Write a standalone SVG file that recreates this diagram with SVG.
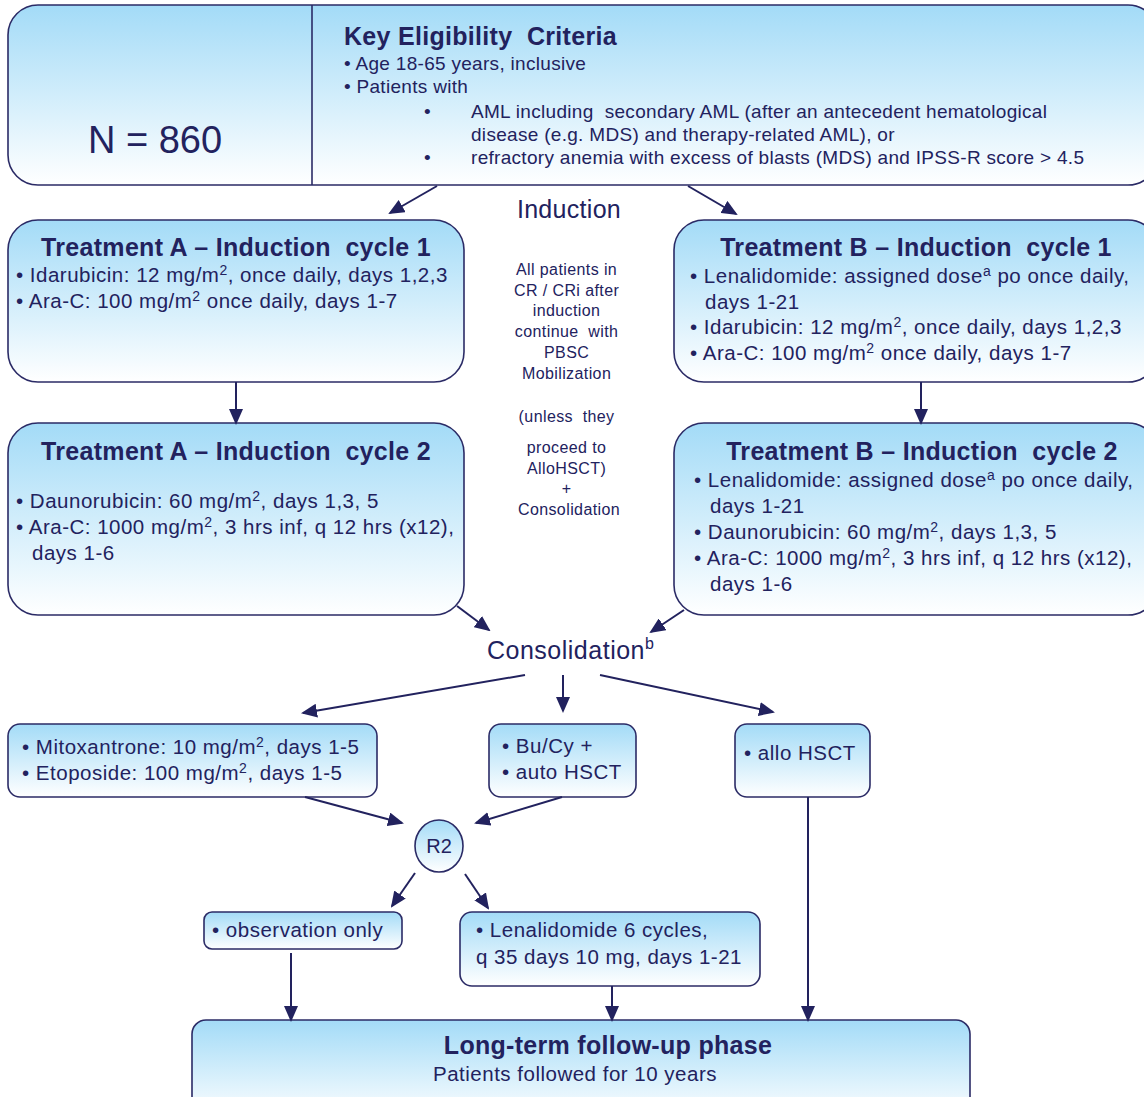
<svg xmlns="http://www.w3.org/2000/svg" width="1144" height="1097" viewBox="0 0 1144 1097">
<defs>
<linearGradient id="g" x1="0" y1="0" x2="0" y2="1">
<stop offset="0" stop-color="#a3dbf7"/>
<stop offset="1" stop-color="#ffffff"/>
</linearGradient>
<marker id="ah" markerWidth="16" markerHeight="14" refX="14" refY="7" orient="auto" markerUnits="userSpaceOnUse">
<path d="M0,0 L16,7 L0,14 Z" fill="#22225e"/>
</marker>
<style>
.box{fill:url(#g);stroke:#2b2b66;stroke-width:1.6}
.t{font-family:"Liberation Sans",Arial,sans-serif;fill:#22225e}
.b{font-weight:bold;font-size:25px;letter-spacing:0.3px}
.c{text-anchor:middle}
.body{font-size:20.5px;letter-spacing:0.5px}
.crit{font-size:19px;letter-spacing:0.3px}
.note{font-size:16px;letter-spacing:0.4px}
.con{stroke:#22225e;stroke-width:2;fill:none;marker-end:url(#ah)}
</style>
</defs>
<rect width="1144" height="1097" fill="#ffffff"/>

<g id="eligibility">
<rect class="box" x="8" y="5" width="1150" height="180" rx="30"/>
<line x1="312" y1="5" x2="312" y2="185" stroke="#2b2b66" stroke-width="1.6"/>
<text class="t c" x="155" y="153" font-size="38">N = 860</text>
<text class="t b" x="344" y="45">Key Eligibility &#160;Criteria</text>
<text class="t crit" x="344" y="70">• Age 18-65 years, inclusive</text>
<text class="t crit" x="344" y="93">• Patients with</text>
<text class="t crit" x="424" y="118">•</text>
<text class="t crit" x="471" y="118">AML including &#160;secondary AML (after an antecedent hematological</text>
<text class="t crit" x="471" y="141">disease (e.g. MDS) and therapy-related AML), or</text>
<text class="t crit" x="424" y="164">•</text>
<text class="t crit" x="471" y="164">refractory anemia with excess of blasts (MDS) and IPSS-R score &gt; 4.5</text>
</g>

<g id="induction-label">
<text class="t c" x="569" y="218" font-size="25" letter-spacing="0.3">Induction</text>
</g>

<g id="note">
<text class="t c note">
<tspan x="569" y="275">All patients in</tspan>
<tspan x="569" y="296">CR / CRi after</tspan>
<tspan x="569" y="316">induction</tspan>
<tspan x="569" y="337">continue &#160;with</tspan>
<tspan x="569" y="358">PBSC</tspan>
<tspan x="569" y="379">Mobilization</tspan>
<tspan x="569" y="422">(unless &#160;they</tspan>
<tspan x="569" y="453">proceed to</tspan>
<tspan x="569" y="474">AlloHSCT)</tspan>
<tspan x="569" y="494">+</tspan>
<tspan x="569" y="515">Consolidation</tspan>
</text>
</g>

<g id="treatA1">
<rect class="box" x="8" y="220" width="456" height="162" rx="30"/>
<text class="t b c" x="236" y="256">Treatment A – Induction &#160;cycle 1</text>
<text class="t body" x="16" y="282">• Idarubicin: 12 mg/m<tspan dy="-7" font-size="14">2</tspan><tspan dy="7">, once daily, days 1,2,3</tspan></text>
<text class="t body" x="16" y="308">• Ara-C: 100 mg/m<tspan dy="-7" font-size="14">2</tspan><tspan dy="7"> once daily, days 1-7</tspan></text>
</g>

<g id="treatA2">
<rect class="box" x="8" y="423" width="456" height="192" rx="30"/>
<text class="t b c" x="236" y="460">Treatment A – Induction &#160;cycle 2</text>
<text class="t body" x="16" y="508">• Daunorubicin: 60 mg/m<tspan dy="-7" font-size="14">2</tspan><tspan dy="7">, days 1,3, 5</tspan></text>
<text class="t body" x="16" y="534">• Ara-C: 1000 mg/m<tspan dy="-7" font-size="14">2</tspan><tspan dy="7">, 3 hrs inf, q 12 hrs (x12),</tspan></text>
<text class="t body" x="32" y="560">days 1-6</text>
</g>

<g id="treatB1">
<rect class="box" x="674" y="220" width="484" height="162" rx="30"/>
<text class="t b c" x="916" y="256">Treatment B – Induction &#160;cycle 1</text>
<text class="t body" x="690" y="283">• Lenalidomide: assigned dose<tspan dy="-7" font-size="14">a</tspan><tspan dy="7"> po once daily,</tspan></text>
<text class="t body" x="705" y="309">days 1-21</text>
<text class="t body" x="690" y="334">• Idarubicin: 12 mg/m<tspan dy="-7" font-size="14">2</tspan><tspan dy="7">, once daily, days 1,2,3</tspan></text>
<text class="t body" x="690" y="360">• Ara-C: 100 mg/m<tspan dy="-7" font-size="14">2</tspan><tspan dy="7"> once daily, days 1-7</tspan></text>
</g>

<g id="treatB2">
<rect class="box" x="674" y="423" width="484" height="192" rx="30"/>
<text class="t b c" x="922" y="460">Treatment B – Induction &#160;cycle 2</text>
<text class="t body" x="694" y="487">• Lenalidomide: assigned dose<tspan dy="-7" font-size="14">a</tspan><tspan dy="7"> po once daily,</tspan></text>
<text class="t body" x="710" y="513">days 1-21</text>
<text class="t body" x="694" y="539">• Daunorubicin: 60 mg/m<tspan dy="-7" font-size="14">2</tspan><tspan dy="7">, days 1,3, 5</tspan></text>
<text class="t body" x="694" y="565">• Ara-C: 1000 mg/m<tspan dy="-7" font-size="14">2</tspan><tspan dy="7">, 3 hrs inf, q 12 hrs (x12),</tspan></text>
<text class="t body" x="710" y="591">days 1-6</text>
</g>

<g id="consolidation">
<text class="t" x="487" y="659" font-size="25" letter-spacing="0.5">Consolidation<tspan dy="-10" font-size="16">b</tspan></text>
</g>

<g id="mitox">
<rect class="box" x="8" y="724" width="369" height="73" rx="12"/>
<text class="t body" x="22" y="754">• Mitoxantrone: 10 mg/m<tspan dy="-7" font-size="14">2</tspan><tspan dy="7">, days 1-5</tspan></text>
<text class="t body" x="22" y="780">• Etoposide: 100 mg/m<tspan dy="-7" font-size="14">2</tspan><tspan dy="7">, days 1-5</tspan></text>
</g>

<g id="bucy">
<rect class="box" x="489" y="724" width="147" height="73" rx="12"/>
<text class="t body" x="502" y="753">• Bu/Cy +</text>
<text class="t body" x="502" y="779">• auto HSCT</text>
</g>

<g id="allo">
<rect class="box" x="735" y="724" width="135" height="73" rx="12"/>
<text class="t body" x="744" y="760">• allo HSCT</text>
</g>

<g id="r2">
<ellipse class="box" cx="439" cy="846" rx="24" ry="26"/>
<text class="t c" x="439" y="853" font-size="20">R2</text>
</g>

<g id="observation">
<rect class="box" x="204" y="912" width="198" height="37" rx="8"/>
<text class="t body" x="212" y="937">• observation only</text>
</g>

<g id="lenalidomide">
<rect class="box" x="460" y="912" width="300" height="74" rx="12"/>
<text class="t body" x="476" y="937">• Lenalidomide 6 cycles,</text>
<text class="t body" x="476" y="964">q 35 days 10 mg, days 1-21</text>
</g>

<g id="followup">
<rect class="box" x="192" y="1020" width="778" height="100" rx="14"/>
<text class="t b c" x="608" y="1054" letter-spacing="0.4">Long-term follow-up phase</text>
<text class="t c body" x="575" y="1081">Patients followed for 10 years</text>
</g>

<g id="connectors">
<line class="con" x1="437" y1="186" x2="390" y2="213"/>
<line class="con" x1="688" y1="186" x2="736" y2="214"/>
<line class="con" x1="236" y1="382" x2="236" y2="423"/>
<line class="con" x1="921" y1="382" x2="921" y2="423"/>
<line class="con" x1="457" y1="606" x2="489" y2="630"/>
<line class="con" x1="684" y1="610" x2="651" y2="632"/>
<line class="con" x1="525" y1="675" x2="303" y2="713"/>
<line class="con" x1="563" y1="675" x2="563" y2="711"/>
<line class="con" x1="600" y1="675" x2="773" y2="712"/>
<line class="con" x1="305" y1="797" x2="402" y2="823"/>
<line class="con" x1="562" y1="797" x2="476" y2="823"/>
<line class="con" x1="415" y1="873" x2="392" y2="906"/>
<line class="con" x1="465" y1="874" x2="488" y2="908"/>
<line class="con" x1="291" y1="953" x2="291" y2="1020"/>
<line class="con" x1="612" y1="986" x2="612" y2="1020"/>
<line class="con" x1="808" y1="797" x2="808" y2="1020"/>
</g>
</svg>
